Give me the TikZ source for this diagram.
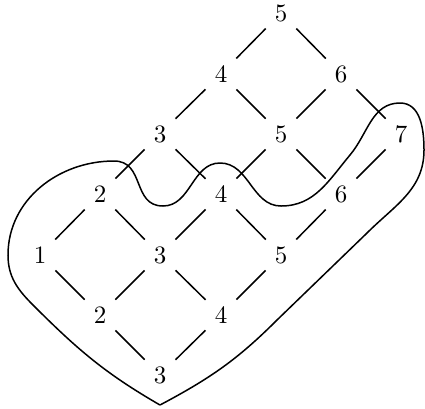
\documentclass[tikz,border=0pt]{standalone}
\begin{document}
\begin{tikzpicture}[x=0.4pt,y=-0.4pt,line width=0.6pt,every node/.style={circle,minimum size=16.8pt,inner sep=0pt}]
\useasboundingbox (0,0) rectangle (425,408);
\node (p00) at (40,255) {1};
\node (p10) at (100,194) {2};
\node (p20) at (160,134) {3};
\node (p30) at (221,74) {4};
\node (p40) at (281,13) {5};
\node (p01) at (100,315) {2};
\node (p11) at (160,255) {3};
\node (p21) at (221,194) {4};
\node (p31) at (281,134) {5};
\node (p41) at (341,74) {6};
\node (p02) at (160,375) {3};
\node (p12) at (221,315) {4};
\node (p22) at (281,255) {5};
\node (p32) at (341,194) {6};
\node (p42) at (401,134) {7};
\draw (p00) -- (p10) -- (p20) -- (p30) -- (p40);
\draw (p01) -- (p11) -- (p21) -- (p31) -- (p41);
\draw (p02) -- (p12) -- (p22) -- (p32) -- (p42);
\draw (p00) -- (p01) -- (p02);
\draw (p10) -- (p11) -- (p12);
\draw (p20) -- (p21) -- (p22);
\draw (p30) -- (p31) -- (p32);
\draw (p40) -- (p41) -- (p42);
\draw (160,405) to[out=150,in=-45] (33,305) to[out=135,in=-90] (8,255)
  to[out=90,in=180] (114,161) to[out=0,in=180,looseness=1.2] (163,206)
  to[out=0,in=180] (220,163) to[out=0,in=180] (281,206)
  to[out=0,in=230] (350,155) to[out=50,in=180] (400,103) to[out=0,in=90] (424,150)
  to[out=-90,in=45] (367,233) -- (277,320) to[out=225,in=28] (160,405);
\end{tikzpicture}
\end{document}
